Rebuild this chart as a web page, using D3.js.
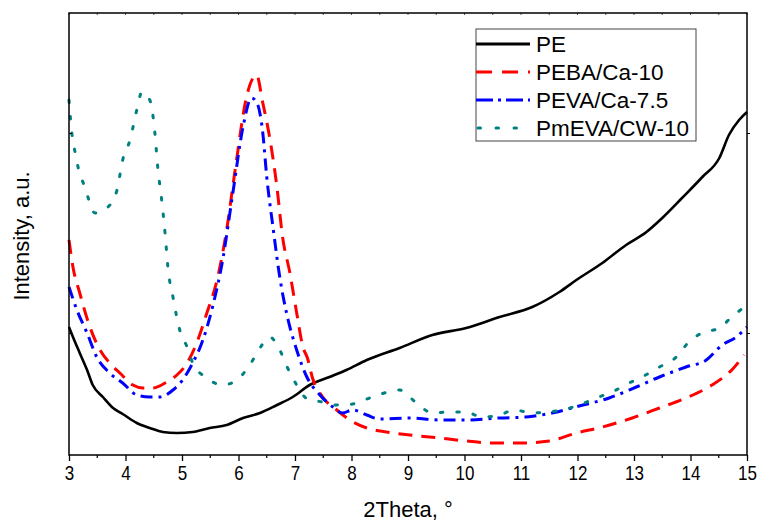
<!DOCTYPE html>
<html>
<head>
<meta charset="utf-8">
<script src="https://cdn.jsdelivr.net/npm/d3@7"></script>
<style>
  body { margin: 0; background: #fff; }
  text { font-family: "Liberation Sans", Arial, sans-serif; fill: #000; }
</style>
</head>
<body>
<div id="container"></div>
<script>
/* CONSTANTS AND GLOBALS */
const width = 758,
  height = 524,
  margin = { top: 13, right: 11, bottom: 69, left: 69 }

// DATA (2Theta in degrees, intensity in a.u.)
const peTheta = [3.00, 3.07, 3.19, 3.32, 3.42, 3.60, 3.78, 3.95, 4.20, 4.43, 4.66, 4.91, 5.19, 5.49, 5.79, 6.08, 6.38, 6.68, 6.96, 7.26, 7.61, 7.91, 8.27, 8.85, 9.43, 10.03, 10.62, 11.20, 11.68, 11.98, 12.44, 12.86, 13.22, 13.50, 13.85, 14.21, 14.51, 14.68, 14.86, 15.00]
const peIntensity = [2060, 1960, 1800, 1630, 1480, 1360, 1250, 1190, 1100, 1050, 1010, 1000, 1010, 1050, 1080, 1150, 1200, 1280, 1360, 1480, 1560, 1630, 1730, 1850, 1980, 2050, 2160, 2260, 2410, 2530, 2700, 2880, 3010, 3150, 3350, 3560, 3750, 3980, 4130, 4210]

const pebaTheta = [3.00, 3.07, 3.19, 3.37, 3.55, 3.72, 3.90, 4.13, 4.31, 4.48, 4.73, 4.91, 5.09, 5.26, 5.44, 5.62, 5.79, 5.94, 6.15, 6.32, 6.43, 6.55, 6.68, 6.78, 6.91, 7.03, 7.14, 7.22, 7.31, 7.49, 7.74, 7.97, 8.27, 8.62, 9.03, 9.56, 10.03, 10.49, 11.02, 11.50, 11.98, 12.44, 12.97, 13.45, 13.92, 14.38, 14.73, 14.95]
const pebaIntensity = [2930, 2660, 2400, 2060, 1830, 1700, 1600, 1480, 1450, 1450, 1510, 1580, 1700, 1900, 2200, 2530, 3030, 3630, 4380, 4580, 4300, 3960, 3460, 2960, 2600, 2200, 1860, 1750, 1550, 1360, 1230, 1130, 1050, 1010, 980, 950, 920, 900, 900, 920, 1000, 1060, 1150, 1250, 1350, 1480, 1630, 1780]

const pevaTheta = [3.00, 3.14, 3.32, 3.49, 3.72, 3.95, 4.20, 4.43, 4.61, 4.84, 5.01, 5.19, 5.37, 5.54, 5.72, 5.90, 6.08, 6.23, 6.32, 6.43, 6.50, 6.61, 6.73, 6.85, 7.03, 7.21, 7.44, 7.67, 7.84, 8.02, 8.27, 8.50, 9.03, 9.56, 10.03, 10.62, 11.09, 11.55, 12.03, 12.56, 13.04, 13.45, 13.92, 14.28, 14.56, 14.81, 15.00]
const pevaIntensity = [2460, 2230, 2000, 1760, 1600, 1500, 1380, 1360, 1360, 1430, 1530, 1700, 1930, 2260, 2730, 3400, 4060, 4350, 4310, 4000, 3560, 3060, 2560, 2200, 1830, 1560, 1380, 1260, 1200, 1230, 1180, 1140, 1150, 1130, 1130, 1150, 1160, 1200, 1270, 1350, 1460, 1560, 1660, 1730, 1880, 1960, 2060]

const pmevaTheta = [3.00, 3.05, 3.11, 3.16, 3.28, 3.46, 3.69, 3.85, 3.95, 4.08, 4.20, 4.29, 4.43, 4.52, 4.57, 4.64, 4.70, 4.75, 4.84, 4.96, 5.09, 5.19, 5.44, 5.72, 5.97, 6.20, 6.38, 6.55, 6.73, 6.87, 7.03, 7.22, 7.49, 7.74, 8.02, 8.32, 8.58, 8.85, 9.15, 9.43, 9.73, 10.03, 10.30, 10.62, 10.88, 11.20, 11.47, 11.73, 12.03, 12.33, 12.61, 12.91, 13.14, 13.45, 13.75, 13.97, 14.20, 14.51, 14.73, 15.00]
const pmevaIntensity = [4330, 4000, 3800, 3660, 3460, 3200, 3260, 3430, 3730, 3930, 4230, 4410, 4330, 4000, 3660, 3330, 3000, 2660, 2360, 2030, 1860, 1700, 1550, 1480, 1530, 1680, 1850, 1960, 1830, 1650, 1480, 1340, 1310, 1280, 1290, 1350, 1400, 1430, 1300, 1200, 1210, 1210, 1160, 1180, 1230, 1200, 1210, 1230, 1280, 1350, 1410, 1500, 1560, 1660, 1760, 1910, 2000, 2050, 2160, 2280]

const seriesNames = ["PE", "PEBA/Ca-10", "PEVA/Ca-7.5", "PmEVA/CW-10"]
const xTicks = [3, 4, 5, 6, 7, 8, 9, 10, 11, 12, 13, 14, 15]
const yTicks = [2000, 4000]

const series = [
  { name: seriesNames[0], theta: peTheta, val: peIntensity, color: "#000000", dash: null },
  { name: seriesNames[1], theta: pebaTheta, val: pebaIntensity, color: "#ff0000", dash: "14 9" },
  { name: seriesNames[2], theta: pevaTheta, val: pevaIntensity, color: "#0000ff", dash: "12 6 3 6" },
  { name: seriesNames[3], theta: pmevaTheta, val: pmevaIntensity, color: "#008080", dash: "2.5 14" }
]

// SCALES
const xScale = d3.scaleLinear()
  .domain([3, 15])
  .range([margin.left, width - margin.right])

const yScale = d3.scaleLinear()
  .domain([780, 5200])
  .range([height - margin.bottom, margin.top])

// CREATE SVG ELEMENT
const svg = d3.select("#container")
  .append("svg")
  .attr("width", width)
  .attr("height", height)
  .style("background", "#fff")

// LINE GENERATOR
const lineGen = d3.line()
  .x(d => xScale(d[0]))
  .y(d => yScale(d[1]))
  .curve(d3.curveMonotoneX)

// DRAW LINES
svg.selectAll(".series")
  .data(series)
  .join("path")
  .attr("class", "series")
  .attr("fill", "none")
  .attr("stroke", d => d.color)
  .attr("stroke-width", d => d.dash ? 3 : 2.6)
  .attr("stroke-linecap", d => d.name === "PmEVA/CW-10" ? "round" : "butt")
  .attr("stroke-dasharray", d => d.dash)
  .attr("d", d => lineGen(d.theta.map((t, i) => [t, d.val[i]])))

// BUILD AND CALL AXES
const minorTicks = d3.range(3, 15.01, 0.5)

// bottom
const xAxis = d3.axisBottom(xScale)
  .tickValues(xTicks)
  .tickSize(6)
  .tickFormat(d3.format("d"))
const gx = svg.append("g")
  .attr("transform", `translate(0, ${height - margin.bottom})`)
  .call(xAxis)
gx.select(".domain").remove()
gx.selectAll("text")
  .attr("font-size", 20)
  .attr("dy", "0.8em")
  .attr("transform", "scale(0.85,1)")
gx.selectAll("line").attr("stroke-width", 1.3)

svg.append("g")
  .selectAll("line")
  .data(minorTicks.filter(d => d % 1 !== 0))
  .join("line")
  .attr("x1", d => xScale(d)).attr("x2", d => xScale(d))
  .attr("y1", height - margin.bottom).attr("y2", height - margin.bottom + 3)
  .attr("stroke", "#000").attr("stroke-width", 1.2)

// top minor ticks pointing in
svg.append("g")
  .selectAll("line")
  .data(minorTicks)
  .join("line")
  .attr("x1", d => xScale(d)).attr("x2", d => xScale(d))
  .attr("y1", margin.top).attr("y2", margin.top + 2)
  .attr("stroke", "#555").attr("stroke-width", 1)

// left and right ticks
const yAxisL = d3.axisRight(yScale).tickValues(yTicks).tickSize(3).tickFormat("")
svg.append("g")
  .attr("transform", `translate(${margin.left}, 0)`)
  .call(yAxisL)
  .call(g => g.select(".domain").remove())
const yAxisR = d3.axisRight(yScale).tickValues(yTicks).tickSize(3).tickFormat("")
svg.append("g")
  .attr("transform", `translate(${width - margin.right}, 0)`)
  .call(yAxisR)
  .call(g => g.select(".domain").remove())

// frame
svg.append("rect")
  .attr("x", margin.left)
  .attr("y", margin.top)
  .attr("width", width - margin.left - margin.right)
  .attr("height", height - margin.top - margin.bottom)
  .attr("fill", "none")
  .attr("stroke", "#000")
  .attr("stroke-width", 1.5)

// axis labels
svg.append("text")
  .attr("text-anchor", "middle")
  .attr("x", (margin.left + width - margin.right) / 2)
  .attr("y", 517)
  .attr("font-size", 22)
  .text("2Theta, °")

svg.append("text")
  .attr("text-anchor", "middle")
  .attr("transform", "rotate(-90)")
  .attr("x", -236)
  .attr("y", 29)
  .attr("font-size", 22)
  .text("Intensity, a.u.")

// LEGEND
const legend = svg.append("g")
legend.append("rect")
  .attr("x", 476).attr("y", 29)
  .attr("width", 220).attr("height", 112)
  .attr("fill", "#fff")
  .attr("stroke", "#444")
  .attr("stroke-width", 1)

const legendDash = [null, "16 10", "17 5 3 5", "2.5 15.5"]
const rows = legend.selectAll(".row")
  .data(series)
  .join("g")
  .attr("class", "row")
  .attr("transform", (d, i) => `translate(0, ${44 + i * 28})`)
rows.append("line")
  .attr("x1", d => d.name === "PmEVA/CW-10" ? 478 : 476).attr("x2", 530)
  .attr("stroke", d => d.color)
  .attr("stroke-width", 3)
  .attr("stroke-linecap", d => d.name === "PmEVA/CW-10" ? "round" : "butt")
  .attr("stroke-dasharray", (d, i) => legendDash[i])
rows.append("text")
  .attr("x", 536)
  .attr("y", 8)
  .attr("font-size", 22.5)
  .text(d => d.name)
</script>
</body>
</html>
